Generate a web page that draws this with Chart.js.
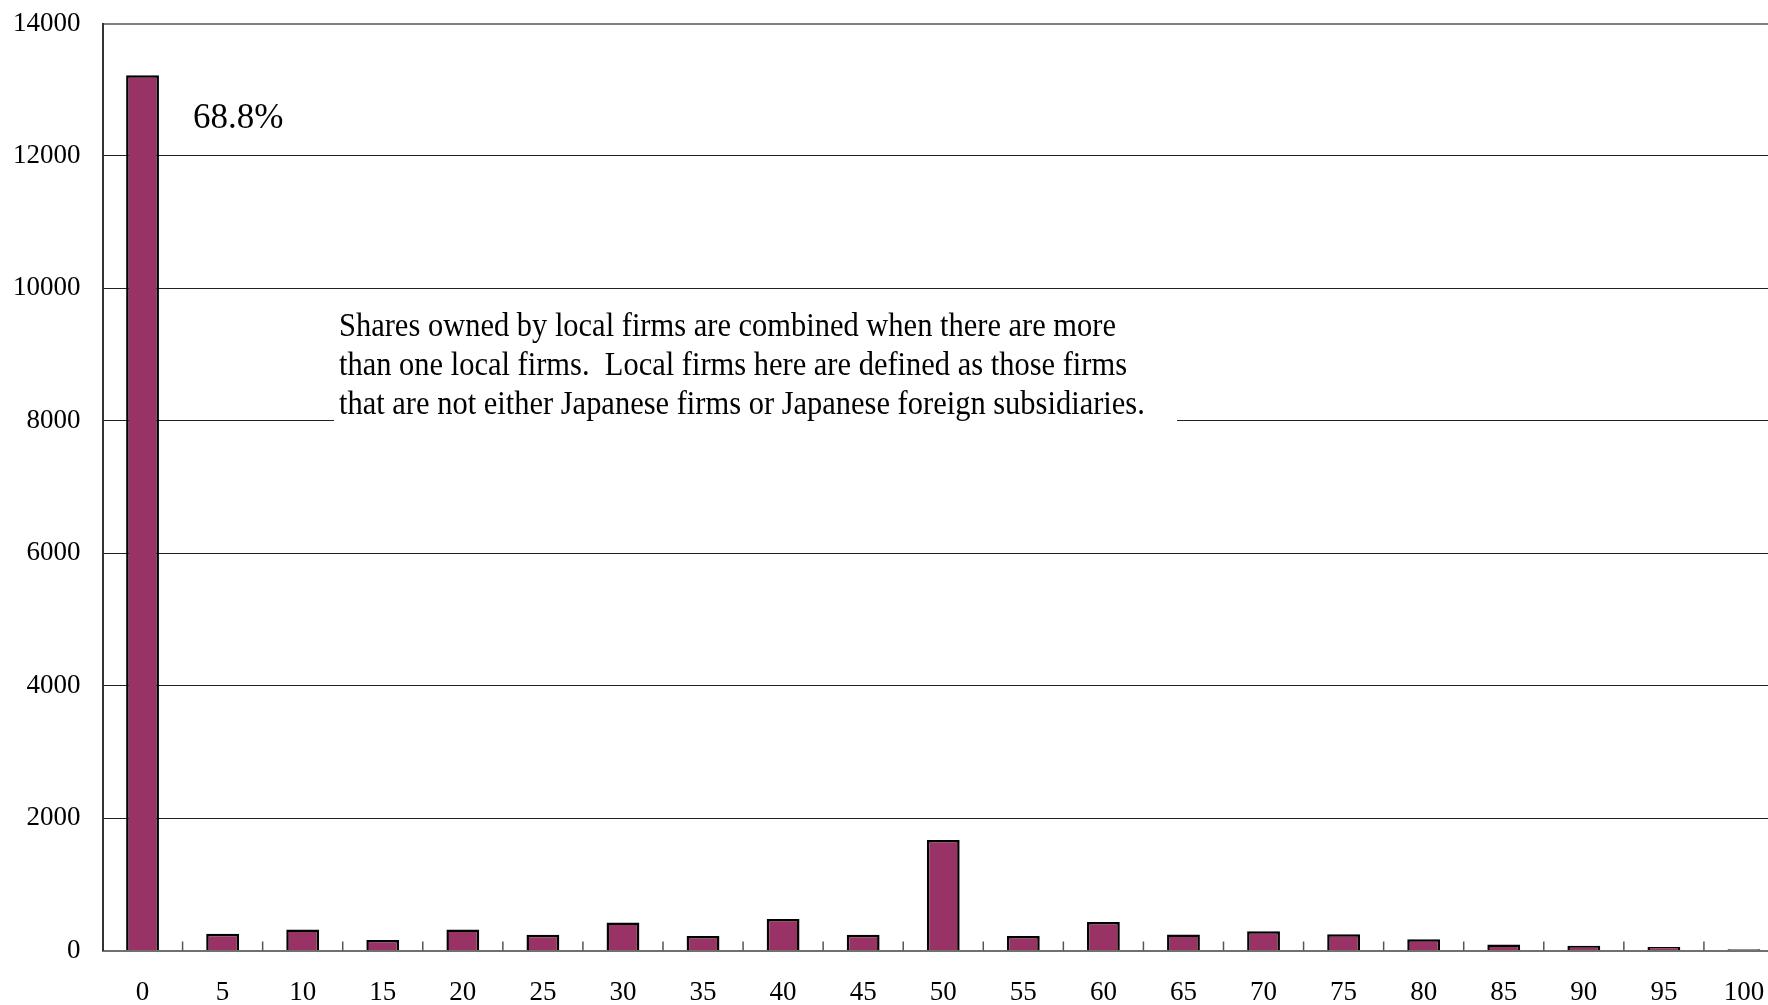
<!DOCTYPE html>
<html>
<head>
<meta charset="utf-8">
<script src="https://cdn.jsdelivr.net/npm/chart.js@4/dist/chart.umd.min.js"></script>
<style>
  html, body { margin: 0; padding: 0; background: #ffffff; overflow: hidden; width: 1768px; height: 1005px; }
  #wrap { position: absolute; left: 0; top: 0; width: 1784px; height: 1005px; }
</style>
</head>
<body>
<div id="wrap"><canvas id="c"></canvas></div>
<script>
// ---- data ----
const categories = ["0","5","10","15","20","25","30","35","40","45","50","55","60","65","70","75","80","85","90","95","100"];
const firmCounts = [13220, 252, 318, 160, 318, 237, 422, 220, 476, 239, 1670, 220, 432, 240, 290, 244, 170, 92, 72, 52, 18];
const yTicks = [0, 2000, 4000, 6000, 8000, 10000, 12000, 14000];
const shareLabel = "68.8%";
const noteLines = [
  "Shares owned by local firms are combined when there are more",
  "than one local firms.  Local firms here are defined as those firms",
  "that are not either Japanese firms or Japanese foreign subsidiaries."
];

const serif = "'Liberation Serif', 'Times New Roman', 'DejaVu Serif', serif";

const upTicks = {
  id: 'upTicks',
  afterDatasetsDraw(chart) {
    const x = chart.scales.x, ctx = chart.ctx, bottom = chart.chartArea.bottom;
    ctx.save();
    ctx.strokeStyle = '#555555';
    ctx.lineWidth = 1.5;
    for (let i = 0; i < categories.length - 1; i++) {
      const bx = (x.getPixelForValue(i) + x.getPixelForValue(i + 1)) / 2;
      ctx.beginPath();
      ctx.moveTo(bx, bottom);
      ctx.lineTo(bx, bottom - 9);
      ctx.stroke();
    }
    ctx.restore();
  }
};

const notes = {
  id: 'notes',
  afterDraw(chart) {
    const ctx = chart.ctx;
    ctx.save();
    ctx.fillStyle = '#000';
    ctx.font = "35px " + serif;
    ctx.textBaseline = 'alphabetic';
    ctx.textAlign = 'left';
    ctx.fillText(shareLabel, 193, 128);
    ctx.fillStyle = '#ffffff';
    ctx.fillRect(334, 300, 843, 130);
    ctx.fillStyle = '#000';
    ctx.font = "33px " + serif;
    const target = 777;
    const w = ctx.measureText(noteLines[0]).width;
    const sx = target / w;
    const baselines = [336, 375, 414];
    noteLines.forEach((t, i) => {
      ctx.save();
      ctx.translate(339, baselines[i]);
      ctx.scale(sx, 1);
      ctx.fillText(t, 0, 0);
      ctx.restore();
    });
    ctx.restore();
  }
};

new Chart(document.getElementById('c'), {
  type: 'bar',
  data: {
    labels: categories,
    datasets: [{
      data: firmCounts,
      backgroundColor: '#993366',
      borderColor: '#000000',
      borderWidth: 2.5,
      barPercentage: 0.41,
      categoryPercentage: 1.0
    }]
  },
  options: {
    responsive: true,
    maintainAspectRatio: false,
    animation: false,
    layout: { padding: { top: 23.5, left: 0, right: 0, bottom: 0 } },
    plugins: { legend: { display: false }, tooltip: { enabled: false } },
    scales: {
      x: {
        type: 'category',
        offset: true,
        grid: { display: false, drawTicks: false },
        border: { display: true, color: '#707070', width: 2 },
        ticks: { color: '#000', font: { family: serif, size: 27 }, padding: 26, maxRotation: 0, autoSkip: false },
        afterFit(s) { s.height = 54.5; s.paddingTop = 0; s.paddingBottom = 0; s.paddingLeft = 0; s.paddingRight = 0; }
      },
      y: {
        min: 0, max: 14000,
        afterBuildTicks(s) { s.ticks = yTicks.map(v => ({ value: v })); },
        grid: {
          drawTicks: false,
          color: (c) => (c.tick && c.tick.value === 14000) ? '#808080' : '#222222',
          lineWidth: (c) => (c.tick && c.tick.value === 14000) ? 2 : 1
        },
        border: { display: true, color: '#333333', width: 2 },
        ticks: { color: '#000', font: { family: serif, size: 27 }, padding: 22, callback: (v) => String(v) },
        afterFit(s) { s.width = 102.5; s.paddingTop = 0; s.paddingBottom = 0; }
      }
    }
  },
  plugins: [upTicks, notes]
});
</script>
</body>
</html>
